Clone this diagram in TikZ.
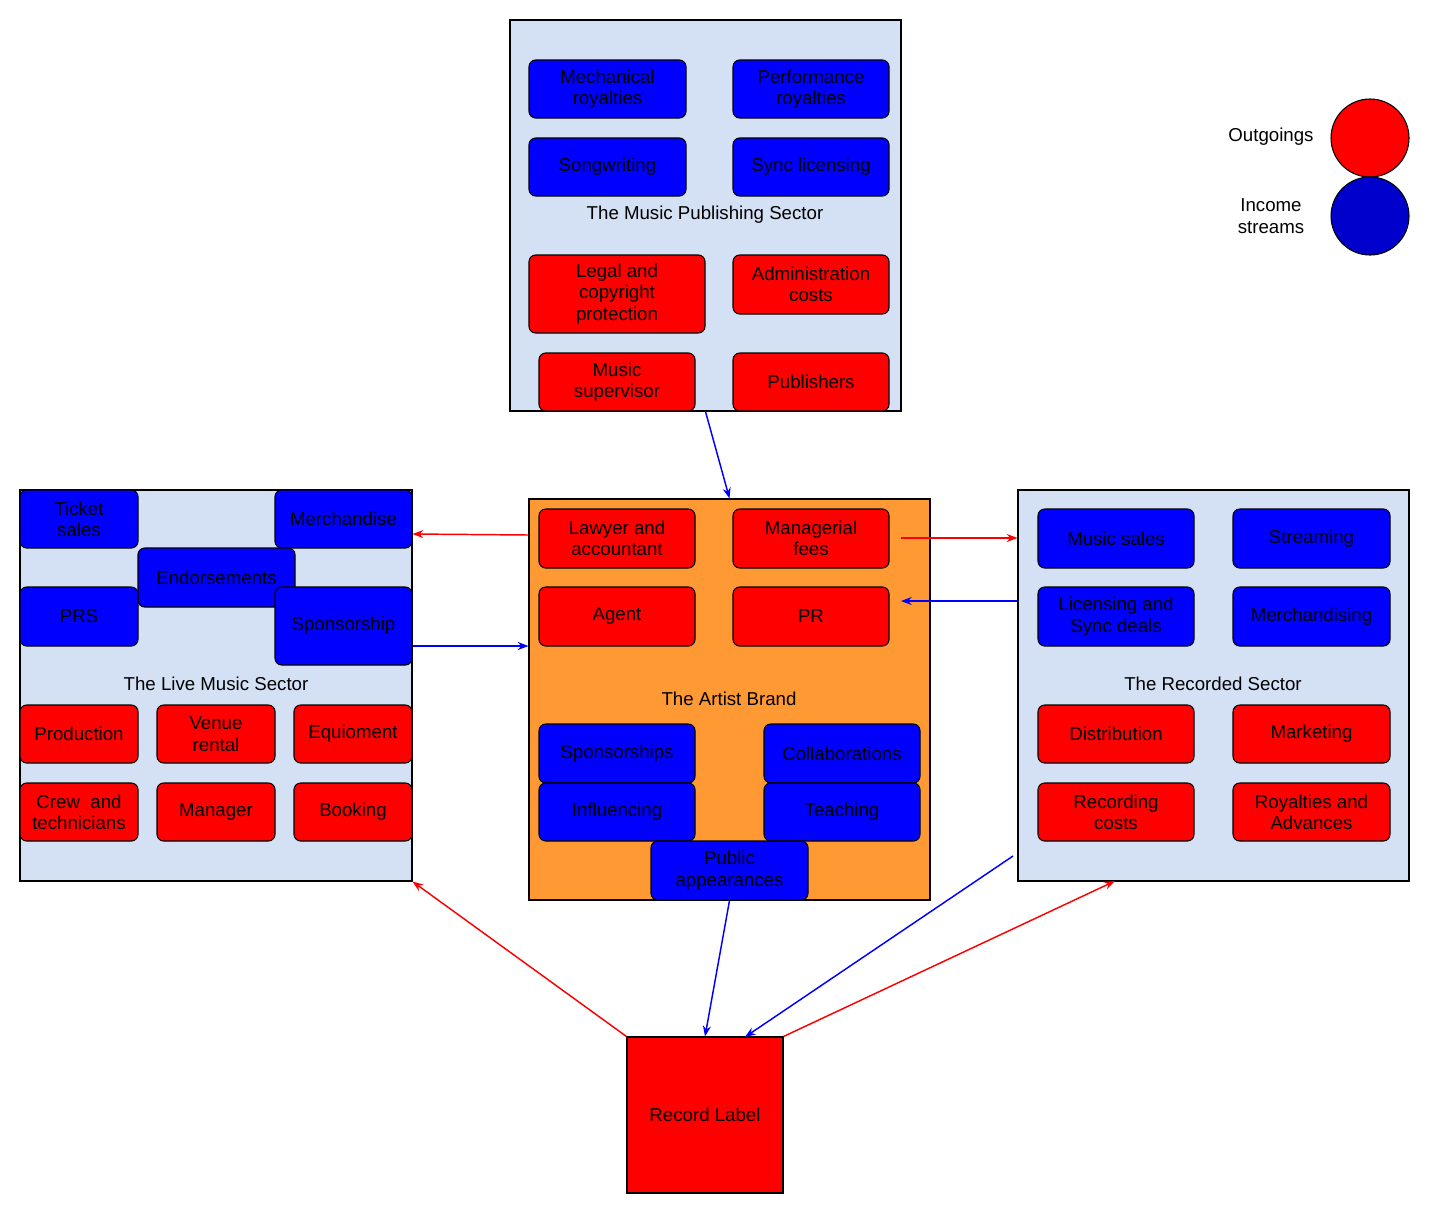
\documentclass[tikz,border=0pt]{standalone}
\usepackage{fontspec}
\setmainfont{Liberation Sans}
\usetikzlibrary{arrows.meta}
\definecolor{cont}{HTML}{D4E1F5}
\definecolor{orng}{HTML}{FF9933}
\definecolor{bl}{HTML}{0000FF}
\definecolor{rd}{HTML}{FF0000}
\definecolor{dbl}{HTML}{0000CC}
\tikzset{
 boxbase/.style={draw=black,line width=0.8pt,align=center,inner sep=0pt,font=\fontsize{14}{16}\selectfont,text=black},
 cbox/.style={boxbase,fill=cont,rounded corners=0pt},
 ibox/.style={boxbase,fill=bl,rounded corners=5pt},
 obox/.style={boxbase,fill=rd,rounded corners=5pt},
 lbl/.style={font=\fontsize{14}{16}\selectfont,align=center},
 conn/.style={line width=1.1pt,-{Stealth[length=8pt,width=6pt]}},
}
\newcommand\bx[7]{%
 \pgfmathsetmacro\cx{(#2+#4)/2}\pgfmathsetmacro\cy{(#3+#5)/2}%
 \pgfmathsetmacro\ww{(#4-#2)*0.75}\pgfmathsetmacro\hh{(#5-#3)*0.75}%
 \node[#6,minimum width=\ww pt,minimum height=\hh pt] (#1) at (\cx,\cy) {#7};}
\begin{document}
\begin{tikzpicture}[x=0.75pt,y=-0.75pt]
\useasboundingbox (0,0) rectangle (1430,1214);
% containers
\bx{pub}{510}{20}{901}{411}{cbox}{}
\bx{live}{20}{490}{412}{881}{cbox}{}
\bx{art}{529}{499}{930}{900}{cbox,fill=orng}{}
\bx{rec}{1018}{490}{1409}{881}{cbox}{}
\bx{label}{627}{1037}{783}{1193}{cbox,fill=rd}{Record Label}
% publishing
\bx{mech}{529}{60}{686}{118}{ibox}{Mechanical\\royalties}
\bx{perf}{733}{60}{889}{118}{ibox}{Performance\\royalties}
\bx{song}{529}{138}{686}{196}{ibox}{Songwriting}
\bx{sync}{733}{138}{889}{196}{ibox}{Sync licensing}
\node[lbl] (publbl) at (705,215) {The Music Publishing Sector};
\bx{legal}{529}{255}{705}{333}{obox}{Legal and\\copyright\\protection}
\bx{admin}{733}{255}{889}{314}{obox}{Administration\\costs}
\bx{sup}{539}{353}{695}{411}{obox}{Music\\supervisor}
\bx{publ}{733}{353}{889}{411}{obox}{Publishers}
% live
\bx{ticket}{20}{490}{138}{548}{ibox}{Ticket\\sales}
\bx{merch}{275}{490}{412}{548}{ibox}{Merchandise}
\bx{endo}{138}{548}{295}{607}{ibox}{Endorsements}
\bx{prs}{20}{587}{138}{646}{ibox}{PRS}
\bx{spons}{275}{587}{412}{665}{ibox}{Sponsorship}
\node[lbl] (livelbl) at (216,684) {The Live Music Sector};
\bx{prod}{20}{705}{138}{763}{obox}{Production}
\bx{venue}{157}{705}{275}{763}{obox}{Venue\\rental}
\bx{equi}{294}{705}{412}{763}{obox}{Equioment}
\bx{crew}{20}{783}{138}{841}{obox}{Crew\ \ and\\technicians}
\bx{mgr}{157}{783}{275}{841}{obox}{Manager}
\bx{book}{294}{783}{412}{841}{obox}{Booking}
% artist
\bx{lawyer}{539}{509}{695}{568}{obox}{Lawyer and\\accountant}
\bx{manf}{733}{509}{889}{568}{obox}{Managerial\\fees}
\bx{agent}{539}{587}{695}{646}{obox}{Agent}
\bx{pr}{733}{587}{889}{646}{obox}{PR}
\node[lbl] (artlbl) at (729,699) {The Artist Brand};
\bx{asp}{539}{724}{695}{783}{ibox}{Sponsorships}
\bx{coll}{764}{724}{920}{783}{ibox}{Collaborations}
\bx{infl}{539}{783}{695}{841}{ibox}{Influencing}
\bx{teach}{764}{783}{920}{841}{ibox}{Teaching}
\bx{pubapp}{651}{841}{808}{900}{ibox}{Public\\appearances}
% recorded
\bx{msales}{1038}{509}{1194}{568}{ibox}{Music sales}
\bx{stream}{1233}{509}{1390}{568}{ibox}{Streaming}
\bx{lic}{1038}{587}{1194}{646}{ibox}{Licensing and\\Sync deals}
\bx{mdise}{1233}{587}{1390}{646}{ibox}{Merchandising}
\node[lbl] (reclbl) at (1213,684) {The Recorded Sector};
\bx{dist}{1038}{705}{1194}{763}{obox}{Distribution}
\bx{mkt}{1233}{705}{1390}{763}{obox}{Marketing}
\bx{rcost}{1038}{783}{1194}{841}{obox}{Recording\\costs}
\bx{roy}{1233}{783}{1390}{841}{obox}{Royalties and\\Advances}
% legend
\node[draw=black,line width=0.8pt,fill=rd,circle,minimum size=58.5pt,inner sep=0pt] (lo) at (1370,138) {};
\node[draw=black,line width=0.8pt,fill=dbl,circle,minimum size=58.5pt,inner sep=0pt] (li) at (1370,216) {};
\node[lbl] (lot) at (1271,137) {Outgoings};
\node[lbl] (lit) at (1271,216) {Income\\streams};
% connectors
\coordinate (c1) at (901,538);
\coordinate (c2) at (1013,856);
\draw[conn,bl] (pub.south) -- (art.north);
\draw[conn,rd] (art.west |- 0,535) -- (live.east |- 0,534);
\draw[conn,rd] (c1) -- (rec.west |- c1);
\draw[conn,bl] (rec.west |- 0,601) -- (901,601);
\draw[conn,bl] (live.east |- 0,646) -- (art.west |- 0,646);
\draw[conn,bl] (art.south) -- (label.north);
\draw[conn,rd] (label.north west) -- (live.south east);
\draw[conn,bl] (c2) -- (745,1037);
\draw[conn,rd] (label.north east) -- (1115,881);
\end{tikzpicture}
\end{document}
